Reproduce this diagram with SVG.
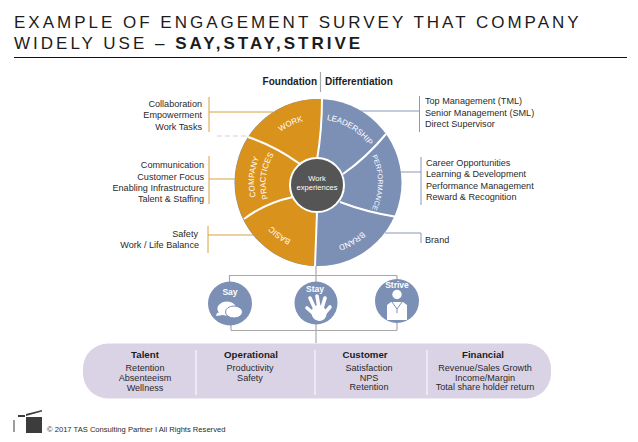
<svg xmlns="http://www.w3.org/2000/svg" width="638" height="442" viewBox="0 0 638 442">
<style>
text{font-family:"Liberation Sans",Arial,sans-serif;fill:#2a2a2a}
.t{font-size:17px;letter-spacing:3px;fill:#1c1c1c}
.l{font-size:9.100px;text-anchor:end}
.r{font-size:9.100px}
.c{font-size:9.100px;text-anchor:middle}
.h{font-size:9.700px;font-weight:bold;text-anchor:middle;fill:#1c1c1c}
.b{font-weight:bold}
.w{font-size:8px;fill:#fff;text-anchor:middle}
.o{fill:none;stroke:#d9a03a;stroke-width:1}
.g{fill:none;stroke:#8a9ab8;stroke-width:1}
.k{fill:none;stroke:#a8a8a8;stroke-width:1.2}
.s{fill:none;stroke:#fff;stroke-width:2}
.i{fill:#fff}
.f{fill:none;stroke:#fff;stroke-width:3.600;stroke-linecap:round}
</style>
<defs>
<path id="pWork" d="M269.700,142 A63,63 0 0 1 318,119.500"/>
<path id="pLead" d="M319.100,119.500 A63,63 0 0 1 373.100,152"/>
<path id="pPerf" d="M370,152.500 A60,60 0 0 1 370,212.500"/>
<path id="pBrand" d="M375.200,215.500 A66,66 0 0 1 318,248.500"/>
<path id="pBasic" d="M311.400,245.700 A63.500,63.500 0 0 1 260,208.300"/>
<path id="pComp" d="M259.900,209.100 A64,64 0 0 1 265.400,146.400"/>
<path id="pPrac" d="M270.200,203.200 A51,51 0 0 1 276.700,150.600"/>
</defs>
<g id="title">
<text class="t" x="14" y="28">EXAMPLE OF ENGAGEMENT SURVEY THAT COMPANY</text>
<text class="t" x="14" y="49">WIDELY USE – <tspan class="b">SAY,STAY,STRIVE</tspan></text>
<line x1="14" y1="57.500" x2="627" y2="57.500" stroke="#111" stroke-width="1"/>
</g>
<g id="connectors">
<path class="k" d="M320.500,72V92"/>
<path class="o" d="M209,97V132M209,112H273M209,156V204M209,179H236M208,226V253M208,235H254"/>
<path class="g" d="M419.500,96V132M360,111H419.500M421,157V205M400,172H421M421,233V243M385,233H421"/>
<path class="k" d="M316,266V282M229,275.500H397M229.500,275.500V283M397,275.500V280M316,324V343M231,330.500H397M231,324V330.500M397,322V330.500"/>
<path d="M217,136H247" stroke="#cfd3dc" stroke-width="1" stroke-dasharray="5 3"/>
</g>
<g id="wheel">
<circle cx="318" cy="182.500" r="83.500" fill="#7c8fb5"/>
<path d="M322,99Q322,130 317,160L317,212Q316,240 315,266A83.500,83.500 0 1 1 322,99Z" fill="#d9931c"/>
<path class="s" d="M322,99Q322,130 317,160M317,212Q316,240 315,266M386,134Q366,158 343,174M397,217Q366,212 340,202M248,137Q275,146 300,164M244,219Q265,203 293,197"/>
<circle cx="317" cy="185" r="27" fill="#555" stroke="#fff" stroke-width="2"/>
<text x="317" y="180.500" font-size="7.600" text-anchor="middle" style="fill:#fff">Work</text>
<text x="317" y="189.500" font-size="7.600" text-anchor="middle" style="fill:#fff">experiences</text>
<text class="w"><textPath href="#pWork" startOffset="50%">WORK</textPath></text>
<text class="w"><textPath href="#pLead" startOffset="50%">LEADERSHIP</textPath></text>
<text class="w" style="font-size:7px"><textPath href="#pPerf" startOffset="50%">PERFORMANCE</textPath></text>
<text class="w"><textPath href="#pBrand" startOffset="50%">BRAND</textPath></text>
<text class="w"><textPath href="#pBasic" startOffset="50%">BASIC</textPath></text>
<text class="w"><textPath href="#pComp" startOffset="50%">COMPANY</textPath></text>
<text class="w"><textPath href="#pPrac" startOffset="50%">PRACTICES</textPath></text>
</g>
<g id="headers">
<text x="317" y="85" font-size="10" text-anchor="end" class="b" style="fill:#1c1c1c">Foundation</text>
<text x="325" y="85" font-size="10" class="b" style="fill:#1c1c1c">Differentiation</text>
</g>
<g id="labels-left">
<text class="l" x="202" y="107">Collaboration</text>
<text class="l" x="202" y="118">Empowerment</text>
<text class="l" x="202" y="130">Work Tasks</text>
<text class="l" x="204" y="168">Communication</text>
<text class="l" x="204" y="180">Customer Focus</text>
<text class="l" x="204" y="191">Enabling Infrastructure</text>
<text class="l" x="204" y="202">Talent &amp; Staffing</text>
<text class="l" x="198" y="237">Safety</text>
<text class="l" x="199" y="248">Work / Life Balance</text>
</g>
<g id="labels-right">
<text class="r" x="425" y="104">Top Management (TML)</text>
<text class="r" x="425" y="116">Senior Management (SML)</text>
<text class="r" x="425" y="127">Direct Supervisor</text>
<text class="r" x="426" y="166">Career Opportunities</text>
<text class="r" x="426" y="177">Learning &amp; Development</text>
<text class="r" x="426" y="189">Performance Management</text>
<text class="r" x="426" y="200">Reward &amp; Recognition</text>
<text class="r" x="425" y="243">Brand</text>
</g>
<g id="say">
<circle cx="230" cy="303.500" r="22" fill="#7c8fb5"/>
<text x="230" y="295" font-size="8.500" text-anchor="middle" class="b" style="fill:#fff">Say</text>
<path class="i" d="M217,313L219,312.500A9.500,7 0 1 1 223,315L216,316Z"/>
<ellipse class="i" cx="234" cy="312" rx="8.500" ry="6" stroke="#7c8fb5"/>
</g>
<g id="stay">
<circle cx="316" cy="303" r="21.500" fill="#7c8fb5"/>
<text x="315" y="292" font-size="8.500" text-anchor="middle" class="b" style="fill:#fff">Stay</text>
<ellipse class="i" cx="319" cy="313" rx="7.500" ry="8" transform="rotate(-25 319 313)"/>
<path class="f" d="M314,314L307,308M315,309L310,298M319,308L317,296M322,308L325,298M324,314L330,307"/>
</g>
<g id="strive">
<circle cx="397" cy="301" r="22" fill="#7c8fb5"/>
<text x="397" y="288" font-size="8.500" text-anchor="middle" class="b" style="fill:#fff">Strive</text>
<circle class="i" cx="397" cy="294.500" r="4.700"/>
<path class="i" d="M387,305L391,302H403L407,305V320H387Z"/>
<path d="M392,302L397,309L402,302M397,309V313" fill="none" stroke="#7c8fb5"/>
</g>
<g id="panel">
<rect x="83" y="343.500" width="468" height="55" rx="25" fill="#dad3e6"/>
<path d="M196,350V395M315,350V395M427,350V395" stroke="#fff" stroke-width="1" fill="none"/>
</g>
<g id="talent">
<text class="h" x="145" y="358">Talent</text>
<text class="c" x="145" y="371">Retention</text>
<text class="c" x="145" y="381">Absenteeism</text>
<text class="c" x="145" y="391">Wellness</text>
</g>
<g id="operational">
<text class="h" x="251" y="358">Operational</text>
<text class="c" x="250" y="371">Productivity</text>
<text class="c" x="250" y="381">Safety</text>
</g>
<g id="customer">
<text class="h" x="365" y="358">Customer</text>
<text class="c" x="369" y="371">Satisfaction</text>
<text class="c" x="369" y="381">NPS</text>
<text class="c" x="369" y="390">Retention</text>
</g>
<g id="financial">
<text class="h" x="483" y="358">Financial</text>
<text class="c" x="485" y="371">Revenue/Sales Growth</text>
<text class="c" x="485" y="381">Income/Margin</text>
<text class="c" x="485" y="390">Total share holder return</text>
</g>
<g id="footer">
<path d="M26,417H42V433H26Z" fill="#3c3c3c"/>
<path d="M26,414L42,410V411.500L26,416Z" fill="#3c3c3c"/>
<path d="M18,415H25V417H18Z" fill="#3c3c3c"/>
<path d="M14,420V432" stroke="#3c3c3c" stroke-width="1"/>
<text x="47" y="432" font-size="7.600">© 2017 TAS Consulting Partner  I  All Rights Reserved</text>
</g>
</svg>
